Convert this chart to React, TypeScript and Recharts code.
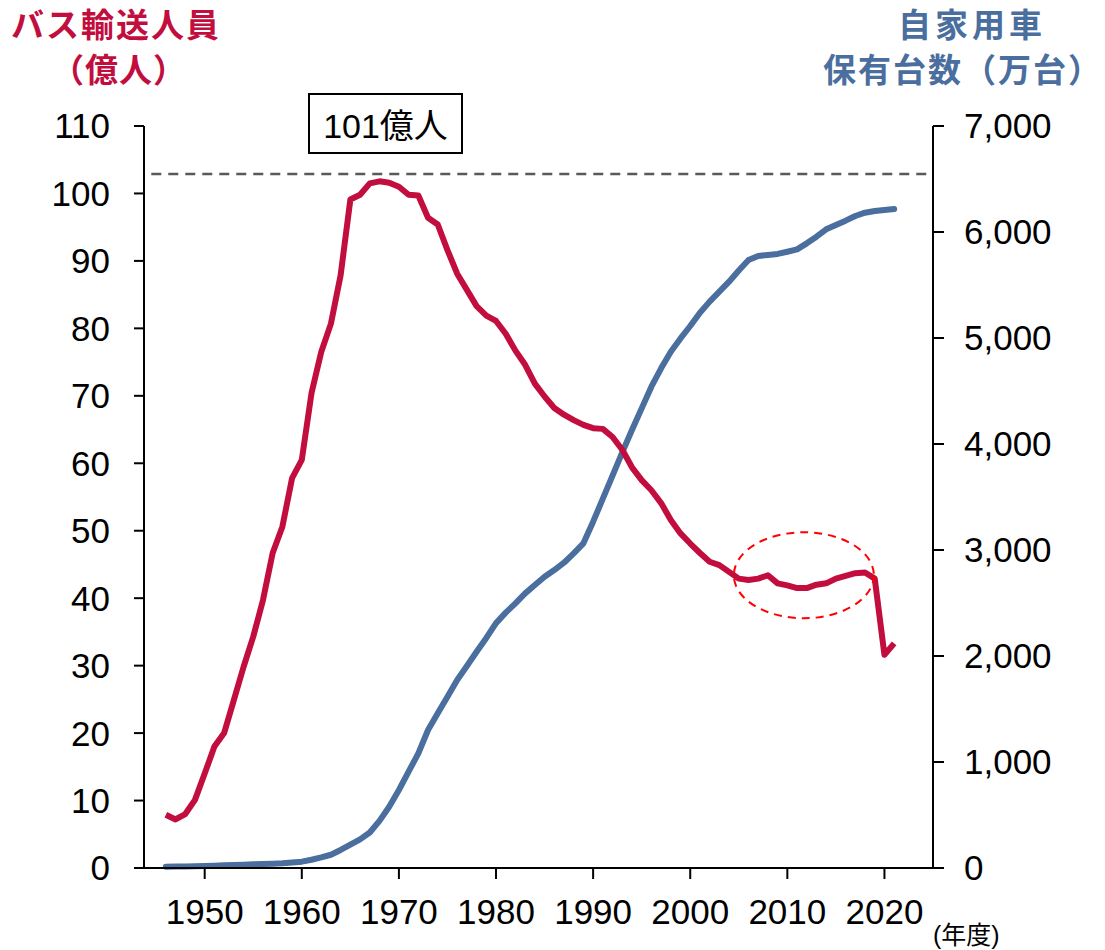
import { LineChart, Line, XAxis, YAxis, ReferenceLine, ReferenceDot } from 'recharts';

// 年度
const years = [
  1946, 1947, 1948, 1949, 1950, 1951, 1952, 1953, 1954, 1955,
  1956, 1957, 1958, 1959, 1960, 1961, 1962, 1963, 1964, 1965,
  1966, 1967, 1968, 1969, 1970, 1971, 1972, 1973, 1974, 1975,
  1976, 1977, 1978, 1979, 1980, 1981, 1982, 1983, 1984, 1985,
  1986, 1987, 1988, 1989, 1990, 1991, 1992, 1993, 1994, 1995,
  1996, 1997, 1998, 1999, 2000, 2001, 2002, 2003, 2004, 2005,
  2006, 2007, 2008, 2009, 2010, 2011, 2012, 2013, 2014, 2015,
  2016, 2017, 2018, 2019, 2020, 2021,
];

// バス輸送人員（億人）
const busPassengers = [
  7.9, 7.2, 8.0, 10.1, 14.0, 18.0, 20.0, 24.9, 29.8, 34.3,
  39.7, 46.7, 50.6, 57.8, 60.5, 70.4, 76.5, 80.7, 87.9, 99.1,
  99.8, 101.5, 101.8, 101.6, 101.0, 99.8, 99.7, 96.4, 95.4, 91.6,
  88.1, 85.7, 83.3, 81.9, 81.1, 79.2, 76.7, 74.6, 71.8, 69.9,
  68.2, 67.2, 66.4, 65.7, 65.2, 65.1, 63.9, 62.0, 59.4, 57.5,
  56.0, 54.1, 51.6, 49.6, 48.1, 46.7, 45.4, 44.9, 43.9, 42.9,
  42.7, 42.9, 43.4, 42.2, 41.9, 41.5, 41.5, 42.0, 42.2, 42.9,
  43.3, 43.7, 43.8, 42.9, 31.6, 33.3,
];

// 自家用車保有台数（万台）
const privateCars = [
  12, 13, 15, 17, 19, 22, 25, 28, 31, 35,
  38, 41, 45, 52, 60, 78, 100, 125, 170, 220,
  270, 335, 445, 578, 736, 909, 1082, 1302, 1459, 1616,
  1774, 1905, 2040, 2170, 2310, 2409, 2497, 2591, 2670, 2748,
  2811, 2880, 2968, 3063, 3267, 3484, 3701, 3921, 4132, 4336,
  4541, 4714, 4871, 4996, 5113, 5239, 5343, 5437, 5531, 5636,
  5736, 5774, 5783, 5793, 5814, 5836, 5893, 5956, 6025, 6066,
  6107, 6151, 6182, 6198, 6208, 6217,
];

const xTicks = [1950, 1960, 1970, 1980, 1990, 2000, 2010, 2020];
const leftTicks = [0, 10, 20, 30, 40, 50, 60, 70, 80, 90, 100, 110];
const rightTicks = [0, 1000, 2000, 3000, 4000, 5000, 6000, 7000];

const peakLevel = 102.9; // 破線の高さ
const peakLabel = '101億人';
const circleCenter = { year: 2011.7, value: 43.4 };

const RED = '#C20E3E';
const BLUE = '#4A6E9E';
const tickFont = { fontSize: 35, fill: '#000', fontFamily: '"Liberation Sans", Arial, sans-serif' };
const cjk = '"Noto Sans CJK JP", sans-serif';

const data = years.map((year, i) => ({
  year,
  bus: busPassengers[i],
  cars: privateCars[i],
}));

const DashedEllipse = (props: any) => (
  <ellipse
    cx={props.cx}
    cy={props.cy}
    rx={70}
    ry={43}
    fill="none"
    stroke="#FF0000"
    strokeWidth={2}
    strokeDasharray="8 6"
  />
);

export default function App() {
  return (
    <div style={{ position: 'absolute', left: 0, top: 0, width: 1105, height: 950, background: '#fff', overflow: 'hidden' }}>
      <LineChart width={1105} height={950} data={data} margin={{ top: 126, right: 0, bottom: 0, left: 0 }}>
        <XAxis
          dataKey="year"
          type="number"
          domain={[1943.75, 2025]}
          ticks={xTicks}
          height={82}
          tick={tickFont}
          tickSize={11}
          tickMargin={20}
          axisLine={{ stroke: '#000', strokeWidth: 2 }}
          tickLine={{ stroke: '#000', strokeWidth: 2 }}
        />
        <YAxis
          yAxisId="left"
          orientation="left"
          domain={[0, 110]}
          ticks={leftTicks}
          width={144}
          tick={tickFont}
          tickSize={10}
          tickMargin={24}
          axisLine={{ stroke: '#000', strokeWidth: 2 }}
          tickLine={{ stroke: '#000', strokeWidth: 2 }}
        />
        <YAxis
          yAxisId="right"
          orientation="right"
          domain={[0, 7000]}
          ticks={rightTicks}
          width={172}
          tick={{ ...tickFont, textAnchor: 'start' }}
          tickFormatter={(v: number) => v.toLocaleString('en-US')}
          tickSize={11}
          tickMargin={20}
          axisLine={{ stroke: '#000', strokeWidth: 2 }}
          tickLine={{ stroke: '#000', strokeWidth: 2 }}
        />
        <ReferenceLine
          yAxisId="left"
          segment={[{ x: 1944.5, y: peakLevel }, { x: 2024.8, y: peakLevel }]}
          stroke="#595959"
          strokeWidth={2.5}
          strokeDasharray="10 7"
        />
        <Line
          yAxisId="right"
          type="linear"
          dataKey="cars"
          stroke={BLUE}
          strokeWidth={6}
          dot={false}
          strokeLinejoin="round"
          strokeLinecap="round"
          isAnimationActive={false}
        />
        <Line
          yAxisId="left"
          type="linear"
          dataKey="bus"
          stroke={RED}
          strokeWidth={6}
          dot={false}
          strokeLinejoin="round"
          isAnimationActive={false}
        />
        <ReferenceDot
          yAxisId="left"
          x={circleCenter.year}
          y={circleCenter.value}
          r={43}
          shape={DashedEllipse}
        />
      </LineChart>

      <div style={{ position: 'absolute', left: 11, top: 0, color: RED, fontFamily: cjk, fontWeight: 700, fontSize: 33, letterSpacing: 2, lineHeight: '46px', whiteSpace: 'nowrap' }}>
        バス輸送人員
      </div>
      <div style={{ position: 'absolute', left: 51, top: 45, color: RED, fontFamily: cjk, fontWeight: 700, fontSize: 33, letterSpacing: 1, lineHeight: '46px', whiteSpace: 'nowrap' }}>
        （億人）
      </div>
      <div style={{ position: 'absolute', left: 898, top: 0, color: BLUE, fontFamily: cjk, fontWeight: 700, fontSize: 33, letterSpacing: 4, lineHeight: '46px', whiteSpace: 'nowrap' }}>
        自家用車
      </div>
      <div style={{ position: 'absolute', left: 823, top: 45, color: BLUE, fontFamily: cjk, fontWeight: 700, fontSize: 33, letterSpacing: 2, lineHeight: '46px', whiteSpace: 'nowrap' }}>
        保有台数（万台）
      </div>

      <div style={{ position: 'absolute', left: 308, top: 93, width: 155, height: 61, boxSizing: 'border-box', border: '2px solid #000', background: '#fff', display: 'flex', alignItems: 'center', justifyContent: 'center', fontFamily: '"Liberation Sans", "Noto Sans CJK JP", sans-serif', fontSize: 34, color: '#000', whiteSpace: 'nowrap' }}>
        {peakLabel}
      </div>

      <div style={{ position: 'absolute', left: 933, top: 915, fontFamily: '"Liberation Sans", "Noto Sans CJK JP", sans-serif', fontSize: 25, color: '#000', whiteSpace: 'nowrap' }}>
        (年度)
      </div>
    </div>
  );
}
